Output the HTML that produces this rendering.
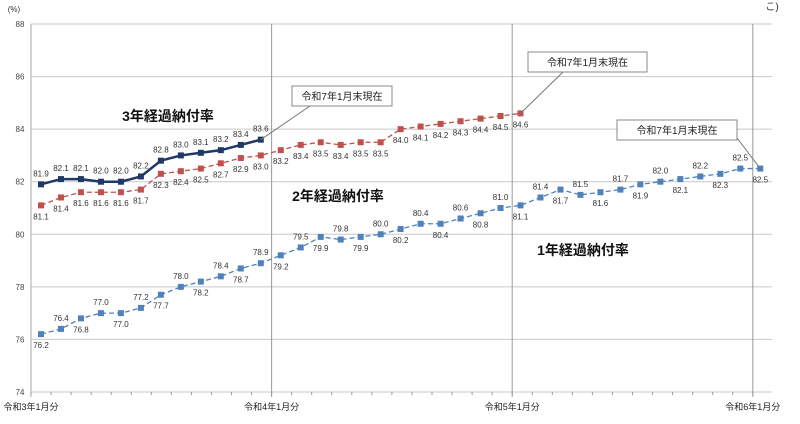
<!DOCTYPE html>
<html><head><meta charset="utf-8"><style>
body{margin:0;background:#fff;}
svg{font-family:"Liberation Sans","Noto Sans CJK JP",sans-serif;}
</style></head><body>
<svg id="c" width="800" height="419"></svg>
<script>
const yTicks=[74,76,78,80,82,84,86,88];
const xLabels=["令和3年1月分","令和4年1月分","令和5年1月分","令和6年1月分"];
const s1=[76.2,76.4,76.8,77.0,77.0,77.2,77.7,78.0,78.2,78.4,78.7,78.9,79.2,79.5,79.9,79.8,79.9,80.0,80.2,80.4,80.4,80.6,80.8,81.0,81.1,81.4,81.7,81.5,81.6,81.7,81.9,82.0,82.1,82.2,82.3,82.5,82.5];
const s2=[81.1,81.4,81.6,81.6,81.6,81.7,82.3,82.4,82.5,82.7,82.9,83.0,83.2,83.4,83.5,83.4,83.5,83.5,84.0,84.1,84.2,84.3,84.4,84.5,84.6];
const s3=[81.9,82.1,82.1,82.0,82.0,82.2,82.8,83.0,83.1,83.2,83.4,83.6];
const svg=document.getElementById('c');
const NS='http://www.w3.org/2000/svg';
const L=31,R=772,T=24,B=392;
const yS=v=>B-(v-74)/14*(B-T);
const xG=m=>L+m*20.05;
const xP=i=>41+i*19.98;
function mk(t,a,p){const e=document.createElementNS(NS,t);for(const k in a)e.setAttribute(k,a[k]);(p||svg).appendChild(e);return e;}
function tx(x,y,s,a){const e=mk('text',Object.assign({x:x,y:y,'font-size':8,fill:'#333','text-anchor':'middle'},a||{}));e.textContent=s;return e;}
// grid
yTicks.forEach(v=>{const g=mk('line',{x1:L,x2:R,y1:yS(v),y2:yS(v),stroke:'#c8c8c8','stroke-width':1});

const t=tx(20,yS(v)+3,v.toFixed(0),{fill:'#444'});});
xLabels.forEach((s,k)=>{const x=xG(k*12);
const g=mk('line',{x1:x,x2:x,y1:T,y2:B+5,stroke:k==0?'#aaa':'#999','stroke-width':1});

const t=tx(x,B+18,s,{'font-size':9,fill:'#222'});});
for(let m=0;m<=36;m++){const t=mk('line',{x1:xG(m),x2:xG(m),y1:B,y2:B+3,stroke:'#999'});}
const yu=tx(14,12,"(%)",{'font-size':8});
const cr=tx(772,10,"こ)",{'font-size':10});
function series(d,name,col,dash,sw,side){
const pts=d.map((v,i)=>xP(i)+','+yS(v)).join(' ');
const pl=mk('polyline',{points:pts,fill:'none',stroke:col,'stroke-width':sw,'stroke-dasharray':dash});

d.forEach((v,i)=>{const r=mk('rect',{x:xP(i)-3,y:yS(v)-3,width:6,height:6,fill:col});

const up=side(i);const t=tx(xP(i),up?yS(v)-8:yS(v)+14,v.toFixed(1));
});}
series(s1,'one-year-rate','#4f81bd','5,3',1.3,i=>i%2==1);
series(s2,'two-year-rate','#c0504d','5,3',1.3,i=>false);
series(s3,'three-year-rate','#1f3864','',2.5,i=>true);
function callout(bx,by,bw,px,py,lx,ly){
const ln=mk('line',{x1:lx,y1:ly,x2:px,y2:py,stroke:'#777'});
const r=mk('rect',{x:bx,y:by,width:bw,height:20,fill:'#fff',stroke:'#888'});
const t=tx(bx+bw/2,by+14,"令和7年1月末現在",{'font-size':10,fill:'#222'});}
callout(292,86,100,xP(11),yS(s3[11]),310,106);
callout(528,52,119,xP(24),yS(s2[24]),563,72);
callout(617,120,120,xP(36),yS(s1[36]),737,138);
[["3年経過納付率",168,121],["2年経過納付率",338,201],["1年経過納付率",583,255]].forEach(a=>{
const t=tx(a[1],a[2],a[0],{'font-size':14,'font-weight':'bold',fill:'#111'});});
</script>
</body></html>
